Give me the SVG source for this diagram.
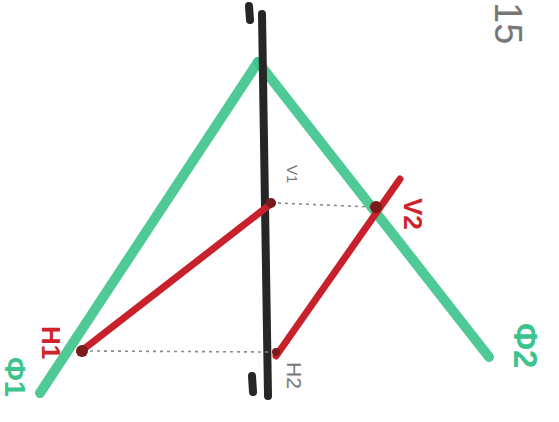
<svg xmlns="http://www.w3.org/2000/svg" width="559" height="422" viewBox="0 0 559 422">
<style>
.g{stroke:#3cc48c;stroke-width:10;stroke-linecap:round;fill:none;opacity:0.9}
.r{stroke:#c8212b;stroke-width:7;stroke-linecap:round;fill:none}
.k{stroke:#262626;stroke-width:8;stroke-linecap:round;fill:none}
.d{stroke:#8a8a8a;stroke-width:1.6;stroke-dasharray:3 4;fill:none}
.pt{fill:#7a1a1a}
.lr{font-family:"Liberation Sans",sans-serif;font-weight:bold;fill:#d0222c}
.lg{font-family:"Liberation Sans",sans-serif;font-weight:bold;fill:#3cc48c}
.lk{font-family:"Liberation Sans",sans-serif;fill:#777}
</style>
<rect width="559" height="422" fill="#fff"/>
<g id="connectors">
<line class="g" x1="258" y1="62" x2="40" y2="393"/>
<line class="g" x1="258" y1="62" x2="489" y2="357"/>
<line class="k" x1="262" y1="14" x2="268" y2="396"/>
<line class="k" x1="249" y1="6" x2="250" y2="20" stroke-width="6"/>
<line class="k" x1="252" y1="376" x2="253" y2="392" stroke-width="6"/>
<line class="r" x1="80" y1="352" x2="272" y2="203"/>
<line class="r" x1="276" y1="356" x2="400" y2="179"/>
<line class="d" x1="278" y1="203" x2="372" y2="207"/>
<line class="d" x1="90" y1="351" x2="270" y2="352"/>
</g>
<g id="V1"><circle class="pt" cx="271" cy="203" r="5"/><text class="lk" x="287" y="165" font-size="15" transform="rotate(90 287 165)">V1</text></g>
<g id="V2"><circle class="pt" cx="376" cy="207" r="6"/><text class="lr" x="404" y="198" font-size="26" transform="rotate(90 404 198)">V2</text></g>
<g id="H1"><circle class="pt" cx="82" cy="351" r="6"/><text class="lr" x="42" y="326" font-size="26" transform="rotate(90 42 326)">H1</text></g>
<g id="H2"><circle class="pt" cx="276" cy="352" r="4"/><text class="lk" x="287" y="362" font-size="21" transform="rotate(90 287 362)">H2</text></g>
<g id="Phi1"><text class="lg" x="5" y="357" font-size="29" transform="rotate(90 5 357)">Φ1</text></g>
<g id="Phi2"><text class="lg" x="514" y="323" font-size="33" transform="rotate(90 514 323)">Φ2</text></g>
<g id="page"><text class="lk" x="495" y="2" font-size="38" transform="rotate(90 495 2)">15</text></g>
</svg>
